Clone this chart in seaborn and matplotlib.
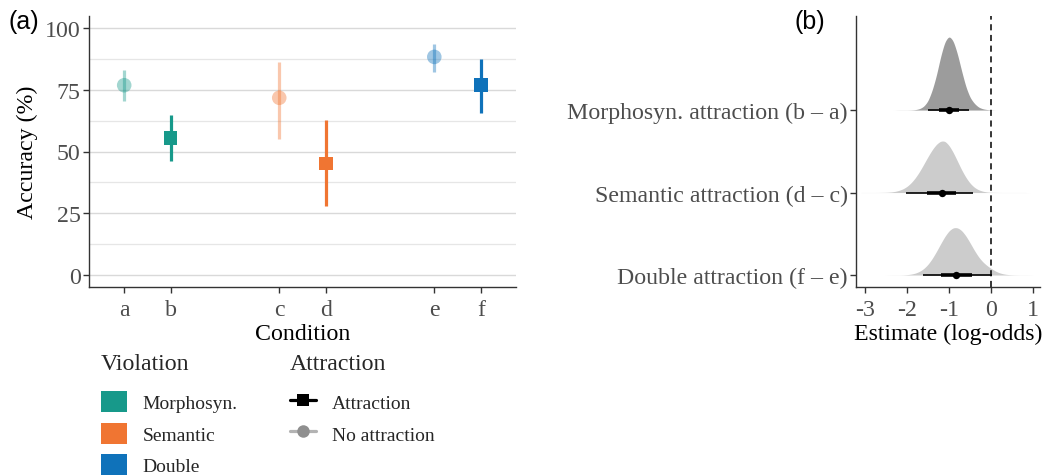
import numpy as np
import pandas as pd
import matplotlib
matplotlib.use("Agg")
import matplotlib.pyplot as plt
import seaborn as sns
from matplotlib.patches import Patch
from matplotlib.lines import Line2D

# ---------------- data: panel (a) ----------------
conditions = ["a", "b", "c", "d", "e", "f"]
violation = ["Morphosyn.", "Morphosyn.", "Semantic", "Semantic", "Double", "Double"]
attraction = ["No attraction", "Attraction", "No attraction", "Attraction",
              "No attraction", "Attraction"]
accuracy = [76.9, 55.5, 71.8, 45.1, 88.4, 77.0]
ci_low = [70.6, 46.2, 55.1, 27.9, 82.4, 65.7]
ci_high = [83.0, 64.8, 86.4, 62.9, 93.8, 87.7]

violation_levels = ["Morphosyn.", "Semantic", "Double"]
violation_colors = ["#17998A", "#F07532", "#0F72BA"]
attraction_levels = ["Attraction", "No attraction"]
y_ticks_a = [0, 25, 50, 75, 100]

# ---------------- data: panel (b) ----------------
contrasts = ["Double attraction (f \u2013 e)", "Semantic attraction (d \u2013 c)",
             "Morphosyn. attraction (b \u2013 a)"]
est_median = [-0.83, -1.17, -1.00]
est_q66_low = [-1.19, -1.53, -1.25]
est_q66_high = [-0.45, -0.83, -0.77]
est_q95_low = [-1.61, -2.02, -1.51]
est_q95_high = [0.01, -0.44, -0.52]
x_ticks_b = [-3, -2, -1, 0, 1]
x_ticklabels_b = ["-3", "-2", "-1", "0", "1"]

dens_x = [-3.1, -3.0, -2.9, -2.8, -2.7, -2.6, -2.5, -2.4, -2.3, -2.2, -2.1,
          -2.0, -1.9, -1.8, -1.7, -1.6, -1.5, -1.4, -1.3, -1.2, -1.1,
          -1.0, -0.9, -0.8, -0.7, -0.6, -0.5, -0.4, -0.3, -0.2, -0.1,
          0.0, 0.1, 0.2, 0.3, 0.4, 0.5, 0.6, 0.7, 0.8, 0.9, 1.0]
dens_morph = [0, 0, 0, 0, 0, 0, 0, 0, 0,
              0.001, 0.001, 0.001, 0.002, 0.005, 0.016, 0.045, 0.11, 0.24, 0.42,
              0.65, 0.83, 0.90, 0.84, 0.68, 0.47, 0.28, 0.15, 0.08, 0.035, 0.015,
              0.006, 0.002,
              0, 0, 0, 0, 0, 0, 0, 0, 0, 0]
dens_semantic = [0.001, 0.001, 0.001, 0.001, 0.001,
                 0.002, 0.003, 0.006, 0.012, 0.024, 0.043, 0.073, 0.118, 0.179,
                 0.255, 0.344, 0.436, 0.52, 0.586, 0.625, 0.625, 0.572, 0.486,
                 0.38, 0.274, 0.183, 0.112, 0.063, 0.033, 0.016, 0.007, 0.003,
                 0.002, 0.001, 0.001, 0.001, 0.001, 0.001, 0.001, 0.001,
                 0, 0]
dens_double = [0, 0, 0, 0, 0, 0, 0,
               0.001, 0.001, 0.001, 0.002, 0.005, 0.011, 0.023, 0.044, 0.078,
               0.129, 0.199, 0.285, 0.379, 0.468, 0.538, 0.575, 0.575, 0.54,
               0.475, 0.39, 0.30, 0.22, 0.16, 0.115, 0.08, 0.048, 0.026, 0.013,
               0.006, 0.003, 0.002, 0.001, 0.001, 0.001,
               0]
densities = [dens_double, dens_semantic, dens_morph]
dens_colors = ["#CCCCCC", "#CCCCCC", "#9C9C9C"]

# ---------------- style ----------------
sns.set_theme(style="ticks")
plt.rcParams["font.family"] = ["Liberation Serif", "DejaVu Serif"]
TICK_GREY = "#4D4D4D"
SPINE = "#333333"

W, H = 1051, 477
fig = plt.figure(figsize=(W / 100, H / 100), dpi=100)
axA = fig.add_axes([89 / W, 1 - 288 / H, (516 - 89) / W, (288 - 17) / H])
axB = fig.add_axes([856 / W, 1 - 288 / H, (1040 - 856) / W, (288 - 17) / H])

# ---------------- panel (a) ----------------
df = pd.DataFrame({"condition": conditions, "violation": violation,
                   "attraction": attraction, "accuracy": accuracy,
                   "lo": ci_low, "hi": ci_high})
df["pos"] = [violation_levels.index(v) + 1 + (0.15 if a == "Attraction" else -0.15)
             for v, a in zip(df["violation"], df["attraction"])]
pal = dict(zip(violation_levels, violation_colors))

axA.set_axisbelow(True)
for _, r in df.iterrows():
    al = 1.0 if r["attraction"] == "Attraction" else 0.4
    axA.vlines(r["pos"], r["lo"], r["hi"], color=pal[r["violation"]],
               lw=2.3, alpha=al, zorder=2)

sub_att = df[df["attraction"] == "Attraction"]
sub_no = df[df["attraction"] == "No attraction"]
sns.scatterplot(data=sub_no, x="pos", y="accuracy", hue="violation",
                palette=pal, marker="o", s=110, alpha=0.4, linewidth=0,
                legend=False, ax=axA, zorder=3)
sns.scatterplot(data=sub_att, x="pos", y="accuracy", hue="violation",
                palette=pal, marker="s", s=95, alpha=1.0, linewidth=0,
                legend=False, ax=axA, zorder=3)

axA.set_xlim(0.623, 3.377)
axA.set_ylim(-5, 105)
axA.set_yticks(y_ticks_a)
axA.set_yticks([12.5, 37.5, 62.5, 87.5], minor=True)
axA.grid(axis="y", which="major", color="#D9D9D9", lw=1.0)
axA.grid(axis="y", which="minor", color="#E6E6E6", lw=0.9)
axA.set_xticks(df["pos"])
axA.set_xticklabels(conditions)
axA.tick_params(axis="both", which="major", length=4, width=1, color=SPINE,
                labelsize=17.2, labelcolor=TICK_GREY, pad=2)
axA.tick_params(axis="x", which="major", pad=4.5)
axA.tick_params(axis="y", which="minor", length=0)
axA.set_xlabel("Condition", fontsize=17.2, color="black", labelpad=2.5)
axA.set_ylabel("Accuracy (%)", fontsize=17.2, color="black", labelpad=5)
sns.despine(ax=axA)
for s in ["left", "bottom"]:
    axA.spines[s].set_color(SPINE)
    axA.spines[s].set_linewidth(1.0)

# legends
vio_handles = [Patch(facecolor=c, edgecolor="none") for c in violation_colors]
leg_kw = dict(loc="upper left", frameon=False, fontsize=14, title_fontsize=17.2,
              handlelength=1.35, handleheight=1.28, handletextpad=0.8,
              labelspacing=0.54, borderpad=0, borderaxespad=0, alignment="left")
leg1 = fig.legend(vio_handles, violation_levels, title="Violation",
                  bbox_to_anchor=(101 / W, 1 - 354 / H), **leg_kw)
att_handles = [Line2D([0], [0], color="black", lw=2.3, marker="s", markersize=8,
                      markeredgewidth=0),
               Line2D([0], [0], color="#B3B3B3", lw=2.3, marker="o", markersize=9,
                      markerfacecolor="#8F8F8F", markeredgewidth=0)]
leg2 = fig.legend(att_handles, attraction_levels, title="Attraction",
                  bbox_to_anchor=(290 / W, 1 - 354 / H), **leg_kw)
for lg in (leg1, leg2):
    lg._legend_box.sep = 12.5

# ---------------- panel (b) ----------------
def smooth_curve(xs, ys):
    fx = np.linspace(xs[0], xs[-1], 821)
    fy = np.interp(fx, xs, ys)
    step = fx[1] - fx[0]
    k = np.exp(-0.5 * (np.arange(-18, 19) * step / 0.03) ** 2)
    k /= k.sum()
    return fx, np.convolve(fy, k, mode="same")

for i, (dens, col) in enumerate(zip(densities, dens_colors)):
    base = i + 1
    fx, fy = smooth_curve(dens_x, dens)
    axB.fill_between(fx, base, base + fy, color=col, lw=0, zorder=1)

axB.axvline(0, color="black", lw=1.1, ls=(0, (4, 3)), zorder=2)

ypos = [1, 2, 3]
for i in range(3):
    axB.hlines(ypos[i], est_q95_low[i], est_q95_high[i], color="black", lw=1.2, zorder=3)
    axB.hlines(ypos[i], est_q66_low[i], est_q66_high[i], color="black", lw=2.6, zorder=3)
dfb = pd.DataFrame({"median": est_median, "y": ypos})
sns.scatterplot(data=dfb, x="median", y="y", color="black", s=28, linewidth=0,
                legend=False, ax=axB, zorder=4)

axB.set_xlim(-3.21, 1.16)
axB.set_ylim(0.855, 4.14)
axB.set_xticks(x_ticks_b)
axB.set_xticklabels(x_ticklabels_b)
axB.set_yticks(ypos)
axB.set_yticklabels(contrasts)
axB.tick_params(axis="both", which="major", length=4, width=1, color=SPINE,
                labelsize=17.2, labelcolor=TICK_GREY, pad=2)
axB.tick_params(axis="x", which="major", pad=4.5)
axB.set_xlabel("Estimate (log-odds)", fontsize=17.2, color="black", labelpad=2.5)
axB.set_ylabel("")
sns.despine(ax=axB)
for s in ["left", "bottom"]:
    axB.spines[s].set_color(SPINE)
    axB.spines[s].set_linewidth(1.0)

# panel tags
fig.text(8 / W, 1 - 22 / H, "(a)", family="Liberation Sans", fontsize=18,
         va="center", ha="left", color="black")
fig.text(795 / W, 1 - 22 / H, "(b)", family="Liberation Sans", fontsize=18,
         va="center", ha="left", color="black")

fig.savefig("out.png", dpi=100)
